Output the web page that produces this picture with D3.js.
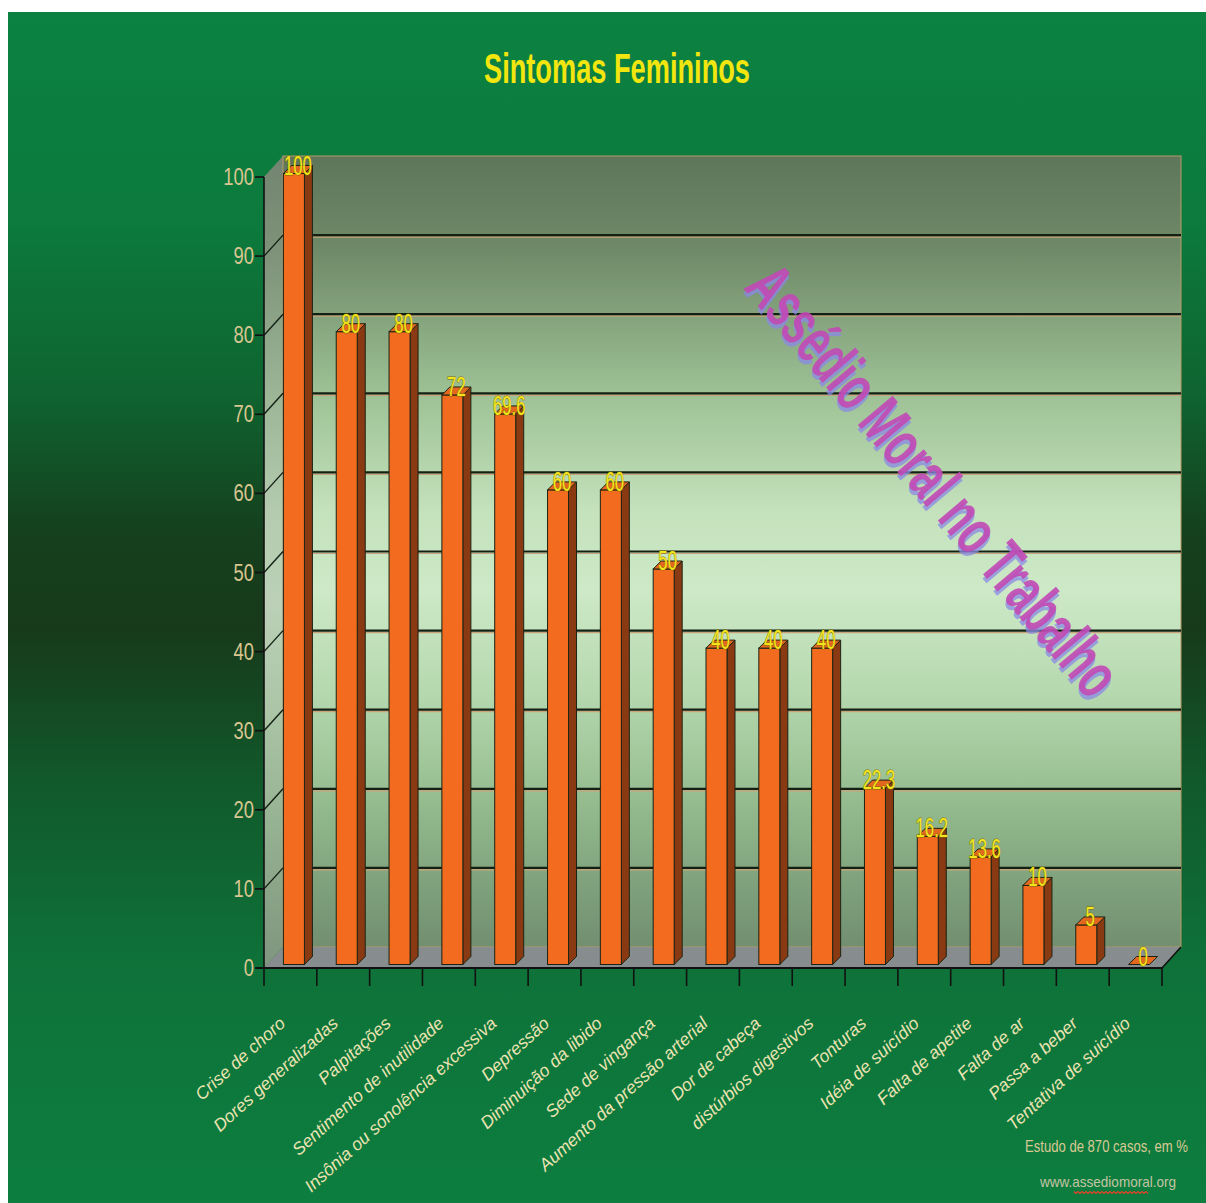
<!DOCTYPE html>
<html>
<head>
<meta charset="utf-8">
<script src="https://cdn.jsdelivr.net/npm/d3@7"></script>
<style>
html,body{margin:0;padding:0;background:#fff;}
svg{display:block;}
</style>
</head>
<body>
<script>
const categories = [
  "Crise de choro","Dores generalizadas","Palpitações","Sentimento de inutilidade",
  "Insônia ou sonolência excessiva","Depressão","Diminuição da libido","Sede de vingança",
  "Aumento da pressão arterial","Dor de cabeça","distúrbios digestivos","Tonturas",
  "Idéia de suicídio","Falta de apetite","Falta de ar","Passa a beber","Tentativa de suicídio"
];
const values = [100, 80, 80, 72, 69.6, 60, 60, 50, 40, 40, 40, 22.3, 16.2, 13.6, 10, 5, 0];
const valueLabels = ["100","80","80","72","69.6","60","60","50","40","40","40","22.3","16.2","13.6","10","5","0"];
const yTicks = [0,10,20,30,40,50,60,70,80,90,100];
const titleText = "Sintomas Femininos";
const watermarkText = "Assédio Moral no Trabalho";
const noteText = "Estudo de 870 casos, em %";
const siteText = "www.assediomoral.org";

const W = 1206, H = 1203;
const svg = d3.select("body").append("svg").attr("width", W).attr("height", H);
const defs = svg.append("defs");

const bg = defs.append("linearGradient").attr("id","bg").attr("x1",0).attr("y1",0).attr("x2",0).attr("y2",1);
[[0,"#0b8241"],[0.18,"#0c7a3c"],[0.32,"#0f6430"],[0.44,"#153f1d"],[0.52,"#173a1b"],[0.65,"#115a2b"],[0.8,"#0e7239"],[1,"#0d7e3f"]]
  .forEach(s=>bg.append("stop").attr("offset",s[0]).attr("stop-color",s[1]));

const wall = defs.append("linearGradient").attr("id","wall").attr("x1",0).attr("y1",0).attr("x2",0).attr("y2",1);
[[0,"#5e755a"],[0.12,"#6f8a68"],[0.3,"#9dc195"],[0.45,"#c4e2bc"],[0.55,"#cde9c7"],[0.68,"#b5d8ae"],[0.82,"#93bb8e"],[0.93,"#7d9f7b"],[1,"#728f70"]]
  .forEach(s=>wall.append("stop").attr("offset",s[0]).attr("stop-color",s[1]));

svg.append("rect").attr("x",8).attr("y",12).attr("width",W-8).attr("height",H-12).attr("fill","url(#bg)");

const x = d3.scaleBand().domain(categories).range([264, 1162]);
const y = d3.scaleLinear().domain([0, 100]).range([968, 177]);
const DX = 19, DY = -21;           // wall depth
const bw = x.bandwidth();
const X0 = x.range()[0], X1 = x.range()[1];

// side wall
const sidePath = `M${X0},${y(100)} L${X0+DX},${y(100)+DY} L${X0+DX},${y(0)+DY} L${X0},${y(0)} Z`;
svg.append("path").attr("d", sidePath).attr("fill","url(#wall)");
svg.append("path").attr("d", sidePath).attr("fill","#9aa39a").attr("opacity",0.35);

// back wall
svg.append("rect")
  .attr("x", X0+DX).attr("y", y(100)+DY)
  .attr("width", X1-X0).attr("height", y(0)-y(100))
  .attr("fill","url(#wall)").attr("stroke","#b89a6a").attr("stroke-width",1);

// gridlines on back wall and side wall
const gl = yTicks.filter(t => t > 0 && t < 100);
svg.selectAll(".gtan").data(gl).join("line")
  .attr("x1", X0+DX).attr("x2", X1+DX)
  .attr("y1", d=>y(d)+DY+2).attr("y2", d=>y(d)+DY+2)
  .attr("stroke","#c9a47a").attr("stroke-width",1.2);
svg.selectAll(".grid").data(gl).join("line")
  .attr("x1", X0+DX).attr("x2", X1+DX)
  .attr("y1", d=>y(d)+DY).attr("y2", d=>y(d)+DY)
  .attr("stroke","#142014").attr("stroke-width",2.2);
svg.selectAll(".sgrid").data(gl).join("line")
  .attr("x1", X0).attr("x2", X0+DX)
  .attr("y1", d=>y(d)).attr("y2", d=>y(d)+DY)
  .attr("stroke","#142014").attr("stroke-width",1.4);

// floor
svg.append("path")
  .attr("d", `M${X0},${y(0)} L${X1},${y(0)} L${X1+DX},${y(0)+DY} L${X0+DX},${y(0)+DY} Z`)
  .attr("fill","#8e8e92").attr("opacity",0.95);
svg.append("line").attr("x1",X1).attr("y1",y(0)).attr("x2",X1+DX).attr("y2",y(0)+DY)
  .attr("stroke","#111").attr("stroke-width",1.6);

// y axis line and ticks
svg.append("line").attr("x1",X0).attr("x2",X0).attr("y1",y(100)).attr("y2",y(0))
  .attr("stroke","#111").attr("stroke-width",1.6);
svg.selectAll(".ytick").data(yTicks).join("line")
  .attr("x1", X0-9).attr("x2", X0).attr("y1", d=>y(d)).attr("y2", d=>y(d))
  .attr("stroke","#111").attr("stroke-width",1.6);
svg.selectAll(".ylab").data(yTicks).join("text")
  .attr("transform", d=>`translate(${X0-10},${y(d)+8}) scale(0.8,1)`)
  .attr("text-anchor","end")
  .attr("font-family","Liberation Sans, Arial, sans-serif").attr("font-size",23)
  .attr("fill","#d8c590").text(d=>d);

// x axis line and ticks
svg.append("line").attr("x1",X0-8).attr("x2",X1).attr("y1",y(0)).attr("y2",y(0))
  .attr("stroke","#111").attr("stroke-width",1.8);
const bounds = categories.map(c=>x(c)).concat([X1]);
svg.selectAll(".xtick").data(bounds).join("line")
  .attr("x1", d=>d).attr("x2", d=>d).attr("y1", y(0)).attr("y2", y(0)+18)
  .attr("stroke","#111").attr("stroke-width",1.6);

// bars
const BW = 21, BD = 8, OFF = 3.5;
const data = categories.map((c,i)=>({c, v: values[i], lab: valueLabels[i]}));
const bars = svg.append("g");
data.forEach(d=>{
  const x0 = x(d.c) + (bw - BW)/2 + OFF, x1 = x0 + BW;
  const yb = y(0) - OFF, yt = y(d.v) - OFF;
  const g = bars.append("g");
  if (d.v > 0) {
    g.append("path").attr("d",`M${x1},${yb} L${x1+BD},${yb-BD} L${x1+BD},${yt-BD} L${x1},${yt} Z`)
      .attr("fill","#8a3a12").attr("stroke","#1b2414").attr("stroke-width",1);
    g.append("rect").attr("x",x0).attr("y",yt).attr("width",BW).attr("height",yb-yt)
      .attr("fill","#f26b1f").attr("stroke","#1b2414").attr("stroke-width",1);
  }
  g.append("path").attr("d",`M${x0},${yt} L${x0+BD},${yt-BD} L${x1+BD},${yt-BD} L${x1},${yt} Z`)
    .attr("fill","#e4671f").attr("stroke","#1b2414").attr("stroke-width",1);
  g.append("text")
    .attr("transform",`translate(${x0+BW/2+4},${yt+1}) scale(0.62,1)`)
    .attr("text-anchor","middle")
    .attr("font-family","Liberation Sans, Arial, sans-serif").attr("font-size",27)
    .attr("fill","#f4e41c").attr("stroke","#7a7000").attr("stroke-width",0.9)
    .attr("paint-order","stroke")
    .text(d.lab);
});

// x labels
svg.selectAll(".xlab").data(categories).join("text")
  .attr("transform", d=>`translate(${x(d)+bw/2-4},${y(0)+57}) rotate(-42)`)
  .attr("text-anchor","end")
  .attr("font-family","Liberation Sans, Arial, sans-serif").attr("font-size",17.5)
  .attr("font-style","italic")
  .attr("fill","#ece3b2").text(d=>d);

// title
svg.append("text").attr("x",617).attr("y",83).attr("text-anchor","middle")
  .attr("font-family","Liberation Sans, Arial, sans-serif").attr("font-weight","bold")
  .attr("font-size",42).attr("textLength",266).attr("lengthAdjust","spacingAndGlyphs")
  .attr("fill","#f3e60e").text(titleText);

// watermark
const wm = svg.append("g").attr("transform","translate(934,480) rotate(50)");
wm.append("text").attr("x",3).attr("y",3).attr("text-anchor","middle").attr("dominant-baseline","central")
  .attr("font-family","Liberation Sans, Arial, sans-serif").attr("font-weight","bold").attr("font-size",66)
  .attr("textLength",540).attr("lengthAdjust","spacingAndGlyphs")
  .attr("fill","#8a8ae6").attr("opacity",0.75).text(watermarkText);
wm.append("text").attr("x",0).attr("y",0).attr("text-anchor","middle").attr("dominant-baseline","central")
  .attr("font-family","Liberation Sans, Arial, sans-serif").attr("font-weight","bold").attr("font-size",66)
  .attr("textLength",540).attr("lengthAdjust","spacingAndGlyphs")
  .attr("fill","#c24ab6").attr("opacity",0.9).text(watermarkText);

// footer
svg.append("text").attr("x",1025).attr("y",1152)
  .attr("font-family","Liberation Sans, Arial, sans-serif").attr("font-size",17)
  .attr("textLength",163).attr("lengthAdjust","spacingAndGlyphs")
  .attr("fill","#d9c994").text(noteText);
svg.append("text").attr("x",1040).attr("y",1187)
  .attr("font-family","Liberation Sans, Arial, sans-serif").attr("font-size",15)
  .attr("textLength",136).attr("lengthAdjust","spacingAndGlyphs")
  .attr("fill","#c4c4a4").text(siteText);
// spell-check squiggle under middle word
const sq = d3.range(0, 38).map(i=>[1074 + i*2, 1192 + (i%2 ? 1.5 : -0.5)]);
svg.append("path").attr("d", d3.line()(sq)).attr("fill","none").attr("stroke","#e8402a").attr("stroke-width",1.2);
</script>
</body>
</html>
